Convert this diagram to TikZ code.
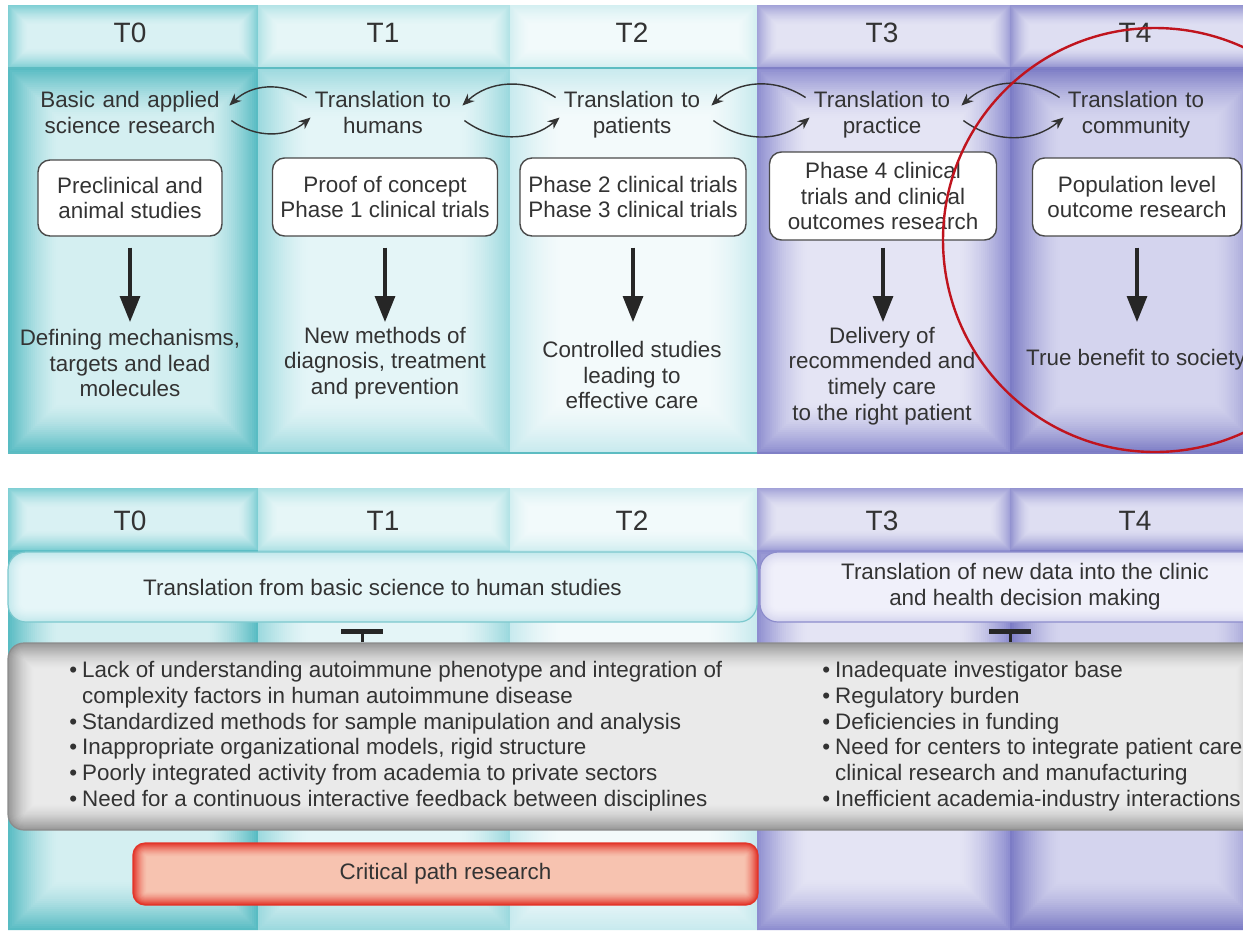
\documentclass[tikz,border=0pt]{standalone}
\usepackage{fontspec}
\setmainfont{Liberation Sans}
\usetikzlibrary{arrows.meta}
\definecolor{txtc}{HTML}{333333}
\definecolor{boxc}{HTML}{4A4A4A}
\definecolor{ce0}{HTML}{58BCC3}\definecolor{cc0}{HTML}{D4EFF1}
\definecolor{ce1}{HTML}{9CD9DE}\definecolor{cc1}{HTML}{E4F5F7}
\definecolor{ce2}{HTML}{C8EAEE}\definecolor{cc2}{HTML}{F3FAFB}
\definecolor{ce3}{HTML}{8E8ED0}\definecolor{cc3}{HTML}{E4E4F4}
\definecolor{ce4}{HTML}{7C7CC5}\definecolor{cc4}{HTML}{D4D4EE}
\definecolor{he0}{HTML}{7FCFD4}\definecolor{hc0}{HTML}{D9F1F3}
\definecolor{he1}{HTML}{B3E3E6}\definecolor{hc1}{HTML}{E6F6F7}
\definecolor{he2}{HTML}{D4EFF1}\definecolor{hc2}{HTML}{F2FAFB}
\definecolor{he3}{HTML}{A2A2D8}\definecolor{hc3}{HTML}{E3E3F3}
\definecolor{he4}{HTML}{9393D0}\definecolor{hc4}{HTML}{DEDEF2}
\definecolor{tealline}{HTML}{5DBCC2}
\definecolor{purpline}{HTML}{8080C6}
\definecolor{grayedge}{HTML}{979797}\definecolor{graycen}{HTML}{EAEAEA}
\definecolor{rededge}{HTML}{E3352A}\definecolor{redcen}{HTML}{F7C3B0}
\definecolor{b1edge}{HTML}{C2E8EC}\definecolor{b1cen}{HTML}{E6F6F8}
\definecolor{b2edge}{HTML}{D6D6EF}\definecolor{b2cen}{HTML}{F0F0FA}
\definecolor{circc}{HTML}{C0141E}

% x1 y1 x2 y2 edgecolour centrecolour depth(px) radius(pt)
\newcommand\myglow[8]{%
  \foreach \i in {0,...,24}{%
    \pgfmathsetmacro\dd{#7*\i/24}%
    \pgfmathsetmacro\mm{100*(1-\i/24)^1.5}%
    \pgfmathsetmacro\rr{max(#8-\dd*0.5,0.01)}%
    \fill[color=#5!\mm!#6, rounded corners=\rr pt] (#1+\dd,#2+\dd) rectangle (#3-\dd,#4-\dd);
  }}

\tikzset{
  txt/.style={text=txtc, align=center, font=\fontsize{11.2}{12.9}\selectfont, inner sep=0pt},
  hdr/.style={text=txtc, font=\fontsize{14}{16}\selectfont, inner sep=0pt},
  lbl/.style={txt, text width=#1, anchor=north},
  stagebox/.style={txt, draw=boxc, line width=0.7pt, fill=white, rounded corners=6pt},
  cyc/.style={draw=txtc, line width=0.7pt, -{Stealth[length=6pt,width=5pt]}},
  dar/.style={draw=black!85, line width=1.6pt, -{Triangle[width=10pt,length=13pt]}},
  inh/.style={draw=black!85, line width=1.5pt, -{Bar[width=21pt,line width=2.5pt]}},
  bul/.style={text=txtc, align=left, inner sep=0pt, font=\fontsize{11.2}{12.9}\selectfont},
}

\begin{document}
\begin{tikzpicture}[x=0.5pt,y=-0.5pt]
\useasboundingbox (0,0) rectangle (1243,933);
\clip (0,0) rectangle (1243,933);
\fill[white] (0,0) rectangle (1243,933);

% ---------- top panel columns ----------
\foreach \a/\b/\n in {8/258/0,258/510/1,510/757/2,757/1010/3,1010/1265/4}{
  \myglow{\a}{68}{\b}{453}{ce\n}{cc\n}{50}{0}
  \myglow{\a}{5}{\b}{68}{he\n}{hc\n}{20}{0}
}
\draw[tealline, line width=1pt] (8,68) -- (757,68);
\draw[purpline, line width=1pt] (757,68) -- (1265,68);
\draw[tealline, line width=1pt] (8,453) -- (757,453);
\draw[purpline, line width=1pt] (757,453) -- (1265,453);

% ---------- bottom panel columns ----------
\foreach \a/\b/\n in {8/258/0,258/510/1,510/757/2,757/1010/3,1010/1265/4}{
  \myglow{\a}{550}{\b}{930}{ce\n}{cc\n}{50}{0}
  \myglow{\a}{488}{\b}{550}{he\n}{hc\n}{20}{0}
}

% ---------- headers ----------
\foreach \x/\t [count=\k from 0] in {130/T0,383/T1,632/T2,882/T3,1135/T4}{
  \node[hdr] (h\k) at (\x,33) {\t};
  \node[hdr] (g\k) at (\x,521) {\t};
}

% ---------- top row labels ----------
\node[lbl=92pt] (l0) at (130,91) {Basic and applied\\science research};
\node[lbl=72pt] (l1) at (383,91) {Translation to\\humans};
\node[lbl=72pt] (l2) at (632,91) {Translation to\\patients};
\node[lbl=72pt] (l3) at (882,91) {Translation to\\practice};
\node[lbl=72pt] (l4) at (1136,91) {Translation to\\community};

\foreach \L/\R in {l0/l1,l1/l2,l2/l3,l3/l4}{
  \draw[cyc] ([shift={(-4,-15)}]\R.west |- l1.west) to[bend right=38] ([shift={(7,-7)}]\L.east |- l1.east);
  \draw[cyc] ([shift={(9,8)}]\L.east |- l1.east) to[bend right=38] ([shift={(0,5)}]\R.west |- l1.west);
}

% ---------- stage boxes ----------
\node[stagebox, minimum width=92pt, minimum height=38pt] (b0) at (130,198) {Preclinical and\\animal studies};
\node[stagebox, minimum width=112.5pt, minimum height=39pt] (b1) at (385,197) {Proof of concept\\Phase 1 clinical trials};
\node[stagebox, minimum width=113pt, minimum height=39pt] (b2) at (633,197) {Phase 2 clinical trials\\Phase 3 clinical trials};
\node[stagebox, minimum width=113.5pt, minimum height=44pt] (b3) at (883,196) {Phase 4 clinical\\trials and clinical\\outcomes research};
\node[stagebox, minimum width=104.5pt, minimum height=39pt] (b4) at (1137,197) {Population level\\outcome research};

% ---------- results ----------
\node[txt] (r0) at (130,363) {Defining mechanisms,\\targets and lead\\molecules};
\node[txt] (r1) at (385,363) {New methods of\\diagnosis, treatment\\and prevention};
\node[txt] (r2) at (632,375) {Controlled studies\\leading to\\effective care};
\node[txt] (r3) at (882,376) {Delivery of\\recommended and\\timely care\\to the right patient};
\node[txt] (r4) at (1136,360) {True benefit to society};

\coordinate (tip) at (0,322);
\foreach \k in {0,...,4}{
  \draw[dar] ([shift={(0,11)}]b\k.south |- b0.south) -- (b\k.south |- tip);
}

% ---------- translation bars ----------
\myglow{8}{552}{757}{622}{b1edge}{b1cen}{14}{9}
\myglow{760}{552}{1290}{622}{b2edge}{b2cen}{14}{9}
\node[txt, draw=tealline!80, line width=0.6pt, rounded corners=9pt, minimum width=374.5pt, minimum height=35pt] (tb1) at (382.5,587) {Translation from basic science to human studies};
\node[txt, draw=purpline!90, line width=0.6pt, rounded corners=9pt, minimum width=265pt, minimum height=35pt] (tb2) at (1025,587) {Translation of new data into the clinic\\and health decision making};

% ---------- grey barrier box ----------
\myglow{8}{643}{1262}{830}{grayedge}{graycen}{26}{8}
\node[draw=black!45, line width=0.6pt, rounded corners=8pt, minimum width=627pt, minimum height=93.5pt, inner sep=0pt] (gray) at (635,736.5) {};

\coordinate (ta) at (362,629);
\coordinate (tb) at (1010,629);
\draw[inh] (ta |- gray.north) -- (ta);
\draw[inh] (tb |- gray.north) -- (tb);

\node[bul, anchor=north west] (gl) at (69,659) {%
\begin{tabular}{@{}l@{\hspace{2.5pt}}l@{}}
\textbullet & Lack of understanding autoimmune phenotype and integration of\\
 & complexity factors in human autoimmune disease\\
\textbullet & Standardized methods for sample manipulation and analysis\\
\textbullet & Inappropriate organizational models, rigid structure\\
\textbullet & Poorly integrated activity from academia to private sectors\\
\textbullet & Need for a continuous interactive feedback between disciplines
\end{tabular}};
\node[bul, anchor=north west] (gr) at (822,659) {%
\begin{tabular}{@{}l@{\hspace{2.5pt}}l@{}}
\textbullet & Inadequate investigator base\\
\textbullet & Regulatory burden\\
\textbullet & Deficiencies in funding\\
\textbullet & Need for centers to integrate patient care\\
 & clinical research and manufacturing\\
\textbullet & Inefficient academia-industry interactions
\end{tabular}};

% ---------- critical path ----------
\myglow{133}{843}{758}{905}{rededge}{redcen}{14}{6}
\node[txt, draw=rededge, line width=0.6pt, rounded corners=6pt, minimum width=312.5pt, minimum height=31pt] (crit) at (445.5,874) {Critical path research};

% ---------- highlight circle ----------
\node[draw=circc, line width=1.2pt, circle, minimum size=212pt, inner sep=0pt] (hl) at (1155,240) {};
\end{tikzpicture}
\end{document}
